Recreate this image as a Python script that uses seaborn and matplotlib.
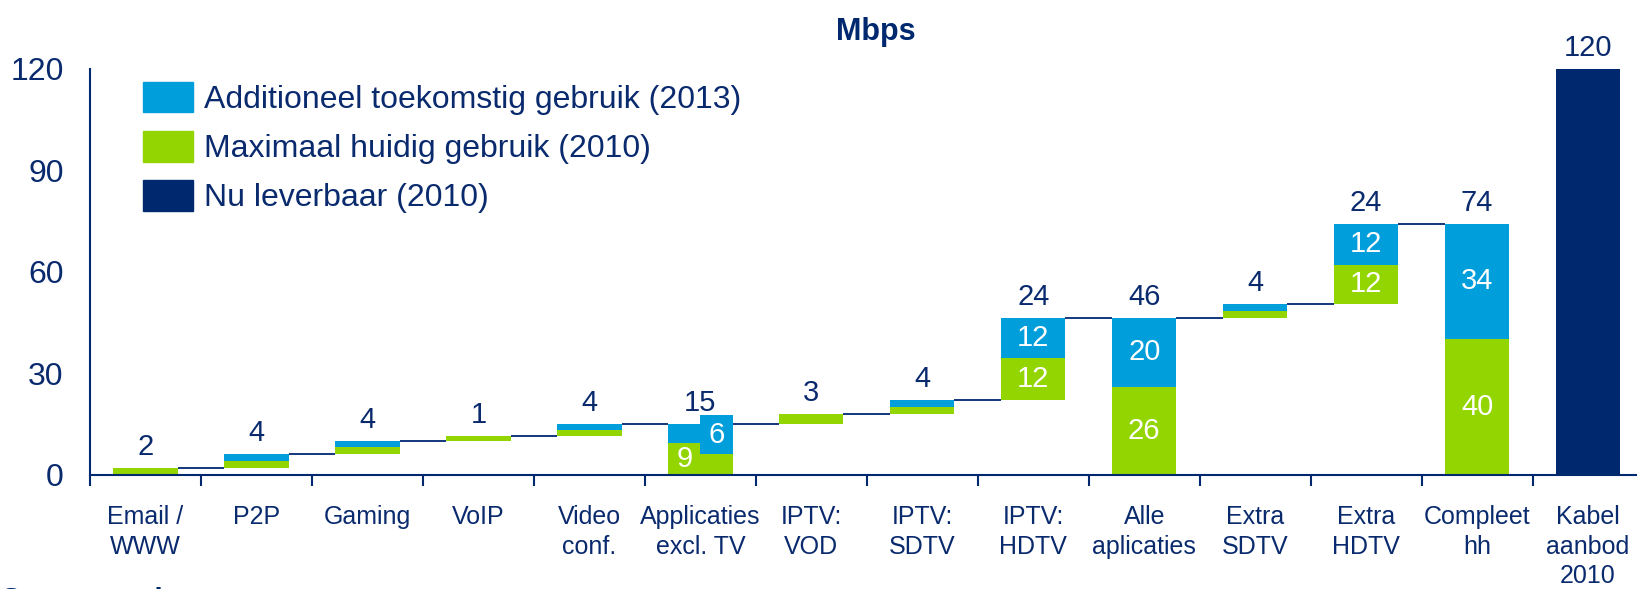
import matplotlib
matplotlib.use('Agg')
import matplotlib.pyplot as plt
import seaborn as sns
from matplotlib.patches import Patch

# categories on the x axis
categories = ['Email /\nWWW', 'P2P', 'Gaming', 'VoIP', 'Video\nconf.', 'Applicaties\nexcl. TV',
              'IPTV:\nVOD', 'IPTV:\nSDTV', 'IPTV:\nHDTV', 'Alle\naplicaties', 'Extra\nSDTV',
              'Extra\nHDTV', 'Compleet\nhh', 'Kabel\naanbod\n2010']
# step = floating on running total, split = two half bars, total = from zero, offer = capacity bar
kinds = ['step', 'step', 'step', 'step', 'step', 'split', 'step', 'step', 'step', 'total',
         'step', 'step', 'total', 'offer']
green_vals = [2.1, 2.0, 2.2, 1.5, 1.8, 9.4, 2.9, 2.1, 12.5, 26.1, 2.0, 11.6, 40.2, 0]
blue_vals = [0, 2.0, 1.7, 0, 1.8, 5.7, 0, 2.1, 11.8, 20.4, 2.0, 12.1, 34.0, 0]
offer_vals = [0, 0, 0, 0, 0, 0, 0, 0, 0, 0, 0, 0, 0, 120]
# second half of the "Applicaties excl. TV" column
split_green = 6.2
split_blue = 11.5
split_label = 6
top_labels = [2, 4, 4, 1, 4, 15, 3, 4, 24, 46, 4, 24, 74, 120]
inner_green = {5: 9, 8: 12, 9: 26, 11: 12, 12: 40}
inner_blue = {8: 12, 9: 20, 11: 12, 12: 34}
legend_labels = ['Additioneel toekomstig gebruik (2013)', 'Maximaal huidig gebruik (2010)',
                 'Nu leverbaar (2010)']

BLUE = '#009EDB'
GREEN = '#93D500'
NAVY = '#00286F'
TEXT = '#0A2A6E'

sns.set_theme(style='white')
plt.rcParams['font.family'] = ['Liberation Sans', 'DejaVu Sans']

fig = plt.figure(figsize=(16.37, 5.89), dpi=100)
ax = fig.add_axes([0.055, 0.1936, 1.004 - 0.055, 0.883 - 0.1936])

w = 0.58
running = 0.0
tops = []
for i, k in enumerate(kinds):
    g, b = green_vals[i], blue_vals[i]
    if k == 'step':
        bottom = running
        running += g + b
    else:
        bottom = 0
        if k == 'split':
            running = g + b
    if k == 'split':
        hw = w / 2
        xl, xr = i - hw / 2, i + hw / 2
        ax.bar(xl, g, hw, bottom=0, color=GREEN, linewidth=0)
        ax.bar(xl, b, hw, bottom=g, color=BLUE, linewidth=0)
        ax.bar(xr, split_green, hw, bottom=0, color=GREEN, linewidth=0)
        ax.bar(xr, split_blue, hw, bottom=split_green, color=BLUE, linewidth=0)
        ax.text(xl, g / 2, str(inner_green[i]), color='white', ha='center', va='center', fontsize=21)
        ax.text(xr, split_green + split_blue / 2, str(split_label), color='white',
                ha='center', va='center', fontsize=21)
        top = g + b
    elif k == 'offer':
        ax.bar(i, offer_vals[i], w, bottom=0, color=NAVY, linewidth=0)
        top = offer_vals[i]
    else:
        ax.bar(i, g, w, bottom=bottom, color=GREEN, linewidth=0)
        if b:
            ax.bar(i, b, w, bottom=bottom + g, color=BLUE, linewidth=0)
        if i in inner_green:
            ax.text(i, bottom + g / 2, str(inner_green[i]), color='white',
                    ha='center', va='center', fontsize=21)
        if i in inner_blue:
            ax.text(i, bottom + g + b / 2, str(inner_blue[i]), color='white',
                    ha='center', va='center', fontsize=21)
        top = bottom + g + b
    tops.append(top)
    ax.annotate(str(top_labels[i]), (i, top), xytext=(0, 5), textcoords='offset points',
                ha='center', va='bottom', fontsize=21, color=TEXT)

# connectors between consecutive columns
for i in range(len(kinds) - 2):
    ax.plot([i + w / 2, i + 1 - w / 2], [tops[i], tops[i]], color=NAVY, lw=1.3,
            solid_capstyle='butt')

ax.set_xlim(-0.5, len(categories) - 0.5)
ax.set_ylim(0, 120)
ax.set_yticks([0, 30, 60, 90, 120])
ax.set_xticks(range(len(categories)))
ax.set_xticklabels(categories, fontsize=18, color=TEXT, linespacing=1.3)
ax.set_xticks([i - 0.5 for i in range(len(categories))], minor=True)
ax.tick_params(axis='x', which='major', length=0, pad=21.5)
ax.tick_params(axis='x', which='minor', length=8, width=1.5, color=NAVY, direction='out')
ax.tick_params(axis='y', length=7, width=1.5, color=NAVY, direction='out', pad=12,
               labelsize=23, labelcolor=TEXT)
ax.tick_params(bottom=True, which='minor')
for s in ['top', 'right']:
    ax.spines[s].set_visible(False)
for s in ['left', 'bottom']:
    ax.spines[s].set_color(NAVY)
    ax.spines[s].set_linewidth(1.5)
ax.grid(False)

handles = [Patch(color=BLUE), Patch(color=GREEN), Patch(color=NAVY)]
ax.legend(handles, legend_labels, loc='upper left', bbox_to_anchor=(0.026, 1.0),
          frameon=False, fontsize=23, handlelength=1.55, handleheight=1.1,
          handletextpad=0.35, labelspacing=0.5, borderaxespad=0, labelcolor=TEXT)

fig.text(0.535, 0.946, 'Mbps', ha='center', va='center', fontsize=22, fontweight='bold', color=NAVY)
fig.text(0.0, -0.035, 'Samenvatting', ha='left', va='baseline', fontsize=22,
         fontweight='bold', color=NAVY)

fig.savefig('out.png', dpi=100)
